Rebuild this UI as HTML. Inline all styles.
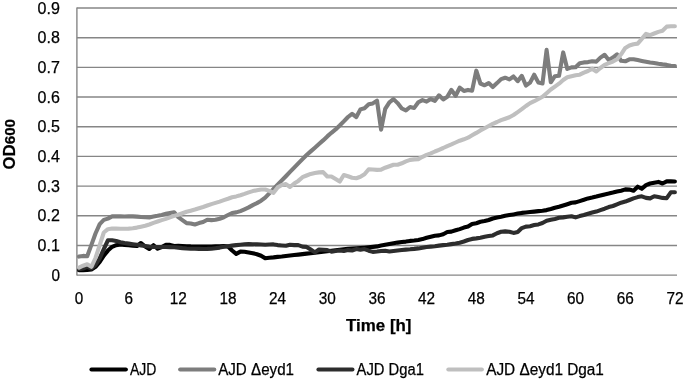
<!DOCTYPE html>
<html lang="en"><head><meta charset="utf-8"><title>Growth curves</title>
<style>
html,body{margin:0;padding:0;background:#fff;}
body{width:685px;height:380px;overflow:hidden;}
svg{display:block;font-family:"Liberation Sans",Arial,sans-serif;fill:#000;}
text{stroke:#000;stroke-width:0.25px}
.c{fill:none;stroke-linejoin:round;stroke-linecap:round;stroke-width:4.1}
.g{stroke:#868686;stroke-width:1.4;fill:none}
.b{font-weight:bold}
</style></head><body>
<svg width="685" height="380" viewBox="0 0 685 380">
<rect width="685" height="380" fill="#fff"/>
<line class="g" x1="76.90" y1="275.12" x2="677.00" y2="275.12"/>
<line class="g" x1="76.90" y1="245.44" x2="677.00" y2="245.44"/>
<line class="g" x1="76.90" y1="215.76" x2="677.00" y2="215.76"/>
<line class="g" x1="76.90" y1="186.08" x2="677.00" y2="186.08"/>
<line class="g" x1="76.90" y1="156.40" x2="677.00" y2="156.40"/>
<line class="g" x1="76.90" y1="126.72" x2="677.00" y2="126.72"/>
<line class="g" x1="76.90" y1="97.04" x2="677.00" y2="97.04"/>
<line class="g" x1="76.90" y1="67.36" x2="677.00" y2="67.36"/>
<line class="g" x1="76.90" y1="37.68" x2="677.00" y2="37.68"/>
<line class="g" x1="76.90" y1="8.00" x2="677.00" y2="8.00"/>
<line class="g" x1="76.90" y1="7.50" x2="76.90" y2="275.62"/>
<text x="59.9" y="280.72" font-size="16.4" text-anchor="end" textLength="8.5" lengthAdjust="spacingAndGlyphs">0</text>
<text x="59.9" y="251.04" font-size="16.4" text-anchor="end" textLength="22.3" lengthAdjust="spacingAndGlyphs">0.1</text>
<text x="59.9" y="221.36" font-size="16.4" text-anchor="end" textLength="22.3" lengthAdjust="spacingAndGlyphs">0.2</text>
<text x="59.9" y="191.68" font-size="16.4" text-anchor="end" textLength="22.3" lengthAdjust="spacingAndGlyphs">0.3</text>
<text x="59.9" y="162.00" font-size="16.4" text-anchor="end" textLength="22.3" lengthAdjust="spacingAndGlyphs">0.4</text>
<text x="59.9" y="132.32" font-size="16.4" text-anchor="end" textLength="22.3" lengthAdjust="spacingAndGlyphs">0.5</text>
<text x="59.9" y="102.64" font-size="16.4" text-anchor="end" textLength="22.3" lengthAdjust="spacingAndGlyphs">0.6</text>
<text x="59.9" y="72.96" font-size="16.4" text-anchor="end" textLength="22.3" lengthAdjust="spacingAndGlyphs">0.7</text>
<text x="59.9" y="43.28" font-size="16.4" text-anchor="end" textLength="22.3" lengthAdjust="spacingAndGlyphs">0.8</text>
<text x="59.9" y="13.60" font-size="16.4" text-anchor="end" textLength="22.3" lengthAdjust="spacingAndGlyphs">0.9</text>
<text x="78.97" y="303.5" font-size="16.4" text-anchor="middle" textLength="8.5" lengthAdjust="spacingAndGlyphs">0</text>
<text x="128.63" y="303.5" font-size="16.4" text-anchor="middle" textLength="8.5" lengthAdjust="spacingAndGlyphs">6</text>
<text x="178.30" y="303.5" font-size="16.4" text-anchor="middle" textLength="17.1" lengthAdjust="spacingAndGlyphs">12</text>
<text x="227.96" y="303.5" font-size="16.4" text-anchor="middle" textLength="17.1" lengthAdjust="spacingAndGlyphs">18</text>
<text x="277.62" y="303.5" font-size="16.4" text-anchor="middle" textLength="17.1" lengthAdjust="spacingAndGlyphs">24</text>
<text x="327.29" y="303.5" font-size="16.4" text-anchor="middle" textLength="17.1" lengthAdjust="spacingAndGlyphs">30</text>
<text x="376.95" y="303.5" font-size="16.4" text-anchor="middle" textLength="17.1" lengthAdjust="spacingAndGlyphs">36</text>
<text x="426.61" y="303.5" font-size="16.4" text-anchor="middle" textLength="17.1" lengthAdjust="spacingAndGlyphs">42</text>
<text x="476.28" y="303.5" font-size="16.4" text-anchor="middle" textLength="17.1" lengthAdjust="spacingAndGlyphs">48</text>
<text x="525.94" y="303.5" font-size="16.4" text-anchor="middle" textLength="17.1" lengthAdjust="spacingAndGlyphs">54</text>
<text x="575.60" y="303.5" font-size="16.4" text-anchor="middle" textLength="17.1" lengthAdjust="spacingAndGlyphs">60</text>
<text x="625.27" y="303.5" font-size="16.4" text-anchor="middle" textLength="17.1" lengthAdjust="spacingAndGlyphs">66</text>
<text x="674.93" y="303.5" font-size="16.4" text-anchor="middle" textLength="17.1" lengthAdjust="spacingAndGlyphs">72</text>
<text class="b" x="378.8" y="330.8" font-size="16.9" text-anchor="middle">Time [h]</text>
<text class="b" transform="translate(14.6,169.4) rotate(-90)" font-size="16.5" textLength="50.5" lengthAdjust="spacingAndGlyphs">OD<tspan font-size="15">600</tspan></text>
<polyline class="c" stroke="#000000" points="79.0,270.2 83.1,270.2 87.2,270.0 91.4,269.5 95.5,266.8 99.7,262.0 103.8,255.6 107.9,250.6 112.1,246.8 116.2,245.2 120.4,244.4 124.5,244.9 128.6,245.3 132.8,245.7 136.9,246.0 141.0,243.0 145.2,246.5 149.3,249.0 153.5,245.2 157.6,248.7 161.7,247.0 165.9,244.9 170.0,244.9 174.2,246.0 178.3,245.8 182.4,246.0 186.6,246.2 190.7,246.4 194.9,246.5 199.0,246.6 203.1,246.6 207.3,246.6 211.4,246.6 215.5,246.4 219.7,246.2 223.8,246.0 228.0,246.5 232.1,250.5 236.2,253.9 240.4,251.6 244.5,251.7 248.7,252.4 252.8,253.2 256.9,254.2 261.1,255.7 265.2,258.3 269.3,257.8 273.5,257.4 277.6,256.9 281.8,256.5 285.9,256.0 290.0,255.5 294.2,255.0 298.3,254.6 302.5,254.1 306.6,253.6 310.7,253.2 314.9,252.7 319.0,252.2 323.1,251.7 327.3,251.3 331.4,250.8 335.6,250.3 339.7,249.8 343.8,249.4 348.0,248.9 352.1,248.6 356.3,248.3 360.4,248.0 364.5,247.7 368.7,247.3 372.8,246.9 377.0,246.4 381.1,245.5 385.2,244.8 389.4,244.0 393.5,243.3 397.6,242.6 401.8,242.0 405.9,241.6 410.1,240.9 414.2,240.5 418.3,240.0 422.5,239.1 426.6,237.8 430.8,236.7 434.9,235.7 439.0,235.4 443.2,234.2 447.3,232.0 451.4,231.6 455.6,230.3 459.7,229.1 463.9,227.6 468.0,226.6 472.1,224.0 476.3,223.2 480.4,221.8 484.6,221.1 488.7,220.0 492.8,218.5 497.0,217.5 501.1,216.7 505.2,215.8 509.4,215.1 513.5,214.4 517.7,213.6 521.8,212.9 525.9,212.5 530.1,212.0 534.2,211.6 538.4,211.1 542.5,210.7 546.6,210.1 550.8,209.0 554.9,207.8 559.0,206.8 563.2,205.5 567.3,204.2 571.5,202.8 575.6,202.4 579.7,201.1 583.9,199.8 588.0,198.4 592.2,197.6 596.3,196.6 600.4,195.5 604.6,194.4 608.7,193.6 612.9,192.6 617.0,191.5 621.1,190.7 625.3,189.4 629.4,189.6 633.5,190.7 637.7,186.7 641.8,188.8 646.0,185.1 650.1,183.5 654.2,182.7 658.4,181.9 662.5,183.5 666.7,181.4 670.8,181.4 674.9,181.5"/>
<polyline class="c" stroke="#7d7d7d" points="79.0,256.6 83.1,255.9 87.2,256.2 91.4,244.9 95.5,233.5 99.7,224.1 103.8,219.9 107.9,218.6 112.1,216.4 116.2,216.3 120.4,216.4 124.5,216.5 128.6,216.4 132.8,216.4 136.9,216.6 141.0,217.0 145.2,217.3 149.3,217.5 153.5,216.6 157.6,215.8 161.7,214.9 165.9,213.8 170.0,213.0 174.2,212.2 178.3,217.2 182.4,220.1 186.6,223.1 190.7,223.5 194.9,224.5 199.0,223.1 203.1,222.0 207.3,219.7 211.4,220.1 215.5,219.7 219.7,218.7 223.8,217.2 228.0,215.0 232.1,213.0 236.2,212.4 240.4,211.1 244.5,209.3 248.7,207.4 252.8,205.1 256.9,203.1 261.1,200.7 265.2,197.6 269.3,193.3 273.5,189.0 277.6,184.8 281.8,180.4 285.9,176.2 290.0,171.9 294.2,167.6 298.3,163.4 302.5,159.1 306.6,155.0 310.7,151.4 314.9,147.7 319.0,144.0 323.1,140.4 327.3,136.4 331.4,132.8 335.6,129.4 339.7,125.5 343.8,121.4 348.0,117.0 352.1,113.8 356.3,117.0 360.4,109.4 364.5,108.2 368.7,104.3 372.8,103.4 377.0,100.6 381.1,129.7 385.2,108.9 389.4,102.3 393.5,99.1 397.6,103.1 401.8,108.5 405.9,110.4 410.1,107.0 414.2,107.9 418.3,102.3 422.5,100.1 426.6,101.6 430.8,99.1 434.9,100.9 439.0,95.3 443.2,99.4 447.3,96.8 451.4,89.9 455.6,95.8 459.7,87.7 463.9,90.9 468.0,89.9 472.1,90.7 476.3,70.7 480.4,83.5 484.6,85.3 488.7,83.1 492.8,87.0 497.0,83.1 501.1,79.1 505.2,77.7 509.4,79.4 513.5,76.5 517.7,81.2 521.8,75.8 525.9,85.5 530.1,82.6 534.2,74.7 538.4,82.6 542.5,83.5 546.6,49.9 550.8,82.3 554.9,76.2 559.0,75.8 563.2,52.4 567.3,68.9 571.5,67.4 575.6,67.2 579.7,63.2 583.9,62.4 588.0,62.1 592.2,61.3 596.3,61.6 600.4,57.6 604.6,54.8 608.7,60.0 612.9,57.6 617.0,54.3 621.1,60.8 625.3,61.3 629.4,59.3 633.5,59.3 637.7,60.1 641.8,60.9 646.0,61.7 650.1,62.5 654.2,63.0 658.4,63.8 662.5,64.4 666.7,64.9 670.8,65.7 674.9,66.0"/>
<polyline class="c" stroke="#2d2d2d" points="79.0,269.3 83.1,268.5 87.2,266.8 91.4,268.5 95.5,265.0 99.7,258.4 103.8,249.1 107.9,240.3 112.1,240.3 116.2,241.0 120.4,242.2 124.5,243.0 128.6,243.6 132.8,244.2 136.9,244.8 141.0,245.4 145.2,246.0 149.3,246.5 153.5,246.9 157.6,247.0 161.7,247.0 165.9,247.0 170.0,247.1 174.2,247.3 178.3,247.6 182.4,248.1 186.6,248.5 190.7,248.7 194.9,248.8 199.0,248.9 203.1,249.0 207.3,248.9 211.4,248.7 215.5,248.2 219.7,247.6 223.8,246.8 228.0,246.2 232.1,245.6 236.2,245.1 240.4,244.7 244.5,244.4 248.7,244.1 252.8,244.4 256.9,244.2 261.1,244.5 265.2,244.8 269.3,244.5 273.5,244.4 277.6,245.1 281.8,245.5 285.9,245.8 290.0,244.7 294.2,245.1 298.3,245.1 302.5,246.6 306.6,246.9 310.7,249.5 314.9,252.4 319.0,249.5 323.1,249.8 327.3,250.1 331.4,251.6 335.6,251.0 339.7,250.5 343.8,251.0 348.0,250.1 352.1,250.5 356.3,249.1 360.4,249.8 364.5,249.1 368.7,250.7 372.8,251.9 377.0,251.5 381.1,251.0 385.2,250.8 389.4,251.5 393.5,251.0 397.6,250.5 401.8,250.0 405.9,249.6 410.1,249.3 414.2,248.9 418.3,248.4 422.5,247.7 426.6,247.0 430.8,246.6 434.9,246.2 439.0,245.6 443.2,245.1 447.3,244.7 451.4,244.1 455.6,243.5 459.7,242.7 463.9,241.5 468.0,240.0 472.1,238.9 476.3,238.4 480.4,237.8 484.6,236.8 488.7,236.1 492.8,235.4 497.0,233.2 501.1,231.7 505.2,231.4 509.4,231.7 513.5,232.9 517.7,232.0 521.8,228.1 525.9,226.6 530.1,226.2 534.2,225.1 538.4,224.4 542.5,223.0 546.6,220.8 550.8,219.7 554.9,218.9 559.0,217.8 563.2,217.4 567.3,216.8 571.5,216.2 575.6,217.4 579.7,216.1 583.9,215.0 588.0,213.7 592.2,212.6 596.3,211.6 600.4,210.1 604.6,208.7 608.7,207.1 612.9,206.0 617.0,204.3 621.1,202.7 625.3,201.6 629.4,200.0 633.5,198.4 637.7,197.1 641.8,196.3 646.0,197.9 650.1,198.4 654.2,196.3 658.4,197.1 662.5,197.9 666.7,198.2 670.8,192.3 674.9,192.3"/>
<polyline class="c" stroke="#bfbfbf" points="79.0,267.7 83.1,265.7 87.2,264.3 91.4,266.8 95.5,258.0 99.7,245.1 103.8,232.5 107.9,229.2 112.1,228.5 116.2,228.6 120.4,228.7 124.5,228.7 128.6,228.6 132.8,228.2 136.9,227.6 141.0,226.7 145.2,225.8 149.3,224.5 153.5,222.9 157.6,221.5 161.7,220.1 165.9,218.9 170.0,217.4 174.2,215.9 178.3,214.7 182.4,213.3 186.6,211.8 190.7,210.7 194.9,209.5 199.0,208.2 203.1,207.0 207.3,205.5 211.4,204.1 215.5,202.9 219.7,201.6 223.8,200.1 228.0,198.7 232.1,197.2 236.2,196.4 240.4,195.2 244.5,193.9 248.7,192.4 252.8,191.1 256.9,190.2 261.1,189.5 265.2,189.5 269.3,190.9 273.5,192.8 277.6,187.4 281.8,185.0 285.9,184.1 290.0,187.0 294.2,183.5 298.3,180.9 302.5,177.2 306.6,175.5 310.7,173.9 314.9,173.0 319.0,172.4 323.1,172.1 327.3,176.5 331.4,176.5 335.6,179.1 339.7,181.6 343.8,175.0 348.0,176.2 352.1,177.7 356.3,178.2 360.4,176.8 364.5,174.3 368.7,169.2 372.8,169.5 377.0,169.9 381.1,169.6 385.2,167.7 389.4,166.2 393.5,164.7 397.6,164.7 401.8,163.3 405.9,161.4 410.1,159.9 414.2,159.4 418.3,159.1 422.5,156.8 426.6,154.9 430.8,153.4 434.9,151.5 439.0,149.8 443.2,148.0 447.3,146.1 451.4,144.4 455.6,142.5 459.7,140.7 463.9,139.3 468.0,137.7 472.1,135.3 476.3,132.9 480.4,130.4 484.6,128.2 488.7,126.0 492.8,123.8 497.0,122.0 501.1,120.1 505.2,118.7 509.4,117.2 513.5,115.0 517.7,112.1 521.8,109.2 525.9,106.0 530.1,103.1 534.2,101.2 538.4,99.0 542.5,96.8 546.6,93.2 550.8,89.5 554.9,86.6 559.0,83.7 563.2,80.0 567.3,77.2 571.5,76.2 575.6,75.2 579.7,74.7 583.9,72.6 588.0,71.0 592.2,68.7 596.3,71.5 600.4,68.0 604.6,64.8 608.7,63.2 612.9,61.6 617.0,59.2 621.1,54.3 625.3,47.9 629.4,45.5 633.5,44.2 637.7,43.6 641.8,38.8 646.0,33.9 650.1,35.1 654.2,33.5 658.4,31.9 662.5,30.7 666.7,26.6 670.8,26.2 674.9,26.2"/>
<line class="c" stroke="#000000" x1="91.45" y1="369.5" x2="125.85" y2="369.5"/>
<text x="130.00" y="374.8" font-size="16" textLength="26.4" lengthAdjust="spacingAndGlyphs">AJD</text>
<line class="c" stroke="#7d7d7d" x1="180.15" y1="369.5" x2="214.25" y2="369.5"/>
<text x="218.20" y="374.8" font-size="16" textLength="75.8" lengthAdjust="spacingAndGlyphs">AJD Δeyd1</text>
<line class="c" stroke="#2d2d2d" x1="318.45" y1="369.5" x2="352.45" y2="369.5"/>
<text x="356.60" y="374.8" font-size="16" textLength="67.3" lengthAdjust="spacingAndGlyphs">AJD Dga1</text>
<line class="c" stroke="#bfbfbf" x1="448.35" y1="369.5" x2="481.85" y2="369.5"/>
<text x="486.20" y="374.8" font-size="16" textLength="117.7" lengthAdjust="spacingAndGlyphs">AJD Δeyd1 Dga1</text>
</svg>
</body></html>
